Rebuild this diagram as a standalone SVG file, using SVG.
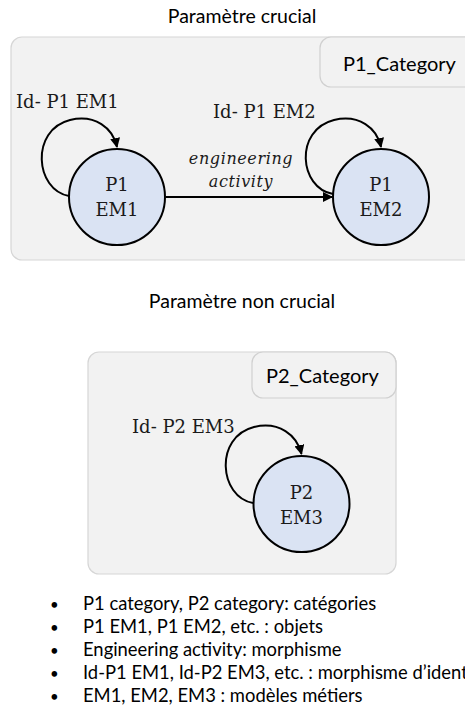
<svg xmlns="http://www.w3.org/2000/svg" width="465" height="719" viewBox="0 0 465 719">
<style>
.bg{fill:#ffffff}
.cat{fill:#f2f2f2;stroke:#d6d6d6;stroke-width:1.2}
.lab{fill:#f2f2f2;stroke:#d0d0d0;stroke-width:1.2}
.node{fill:#dae3f3;stroke:#000;stroke-width:2}
.sans{font-family:Lato,"Open Sans","Liberation Sans",sans-serif;fill:#000}
.serif{font-family:"DejaVu Serif","Liberation Serif",serif;fill:#1a1a1a;font-size:18px}
.it{font-family:"DejaVu Serif","Liberation Serif",serif;font-style:italic;fill:#1a1a1a;font-size:16px;letter-spacing:0.6px}
.edge{fill:none;stroke:#000;stroke-width:2}
</style>
<defs>
<marker id="ah" viewBox="0 0 10 10" refX="9" refY="5" markerWidth="5" markerHeight="5" orient="auto" markerUnits="strokeWidth">
<path d="M0,0 L10,5 L0,10 z" fill="#000"/>
</marker>
</defs>
<rect class="bg" x="0" y="0" width="465" height="719"/>

<text class="sans" x="242" y="23" font-size="19.5" text-anchor="middle">Paramètre crucial</text>
<text class="sans" x="242" y="308" font-size="19.5" text-anchor="middle">Paramètre non crucial</text>

<g id="P1_Category">
<rect class="cat" x="11" y="37" width="470" height="223" rx="11"/>
<rect class="lab" x="320" y="37" width="160" height="50" rx="11"/>
<text class="sans" x="343" y="71" font-size="20">P1_Category</text>
</g>

<g id="P2_Category">
<rect class="cat" x="88" y="352" width="308" height="222" rx="11"/>
<rect class="lab" x="252" y="352" width="144" height="46" rx="11"/>
<text class="sans" x="266" y="383" font-size="20">P2_Category</text>
</g>

<g id="connectors">
<path class="edge" d="M69,196 C35,190 30,130 70,120 C95,114 113,128 117,147" marker-end="url(#ah)"/>
<path class="edge" d="M333,194 C299,188 294,130 334,120 C359,114 377,128 381,147" marker-end="url(#ah)"/>
<path class="edge" d="M253,503 C219,497 214,437 254,427 C279,421 297,435 301.5,454" marker-end="url(#ah)"/>
<path class="edge" d="M166,197 L332,197" marker-end="url(#ah)"/>
<text class="it" x="241" y="164" text-anchor="middle">engineering</text>
<text class="it" x="241" y="187" text-anchor="middle">activity</text>
<text class="serif" x="16" y="108">Id- P1 EM1</text>
<text class="serif" x="213" y="118">Id- P1 EM2</text>
<text class="serif" x="132" y="433">Id- P2 EM3</text>
</g>

<g id="P1_EM1">
<circle class="node" cx="117" cy="197" r="48"/>
<text class="serif" x="117" y="191" text-anchor="middle">P1</text>
<text class="serif" x="117" y="216" text-anchor="middle">EM1</text>
</g>

<g id="P1_EM2">
<circle class="node" cx="381" cy="197" r="48"/>
<text class="serif" x="381" y="191" text-anchor="middle">P1</text>
<text class="serif" x="381" y="216" text-anchor="middle">EM2</text>
</g>

<g id="P2_EM3">
<circle class="node" cx="301.5" cy="504" r="48"/>
<text class="serif" x="301.5" y="499" text-anchor="middle">P2</text>
<text class="serif" x="301.5" y="524" text-anchor="middle">EM3</text>
</g>

<g id="legend" class="sans" font-size="18.4">
<text x="50" y="610" font-size="15">•</text><text x="83" y="610">P1 category, P2 category: catégories</text>
<text x="50" y="633" font-size="15">•</text><text x="83" y="633">P1 EM1, P1 EM2, etc. : objets</text>
<text x="50" y="656" font-size="15">•</text><text x="83" y="656">Engineering activity: morphisme</text>
<text x="50" y="679" font-size="15">•</text><text x="83" y="679">Id-P1 EM1, Id-P2 EM3, etc. : morphisme d’identité</text>
<text x="50" y="702" font-size="15">•</text><text x="83" y="702">EM1, EM2, EM3 : modèles métiers</text>
</g>
</svg>
